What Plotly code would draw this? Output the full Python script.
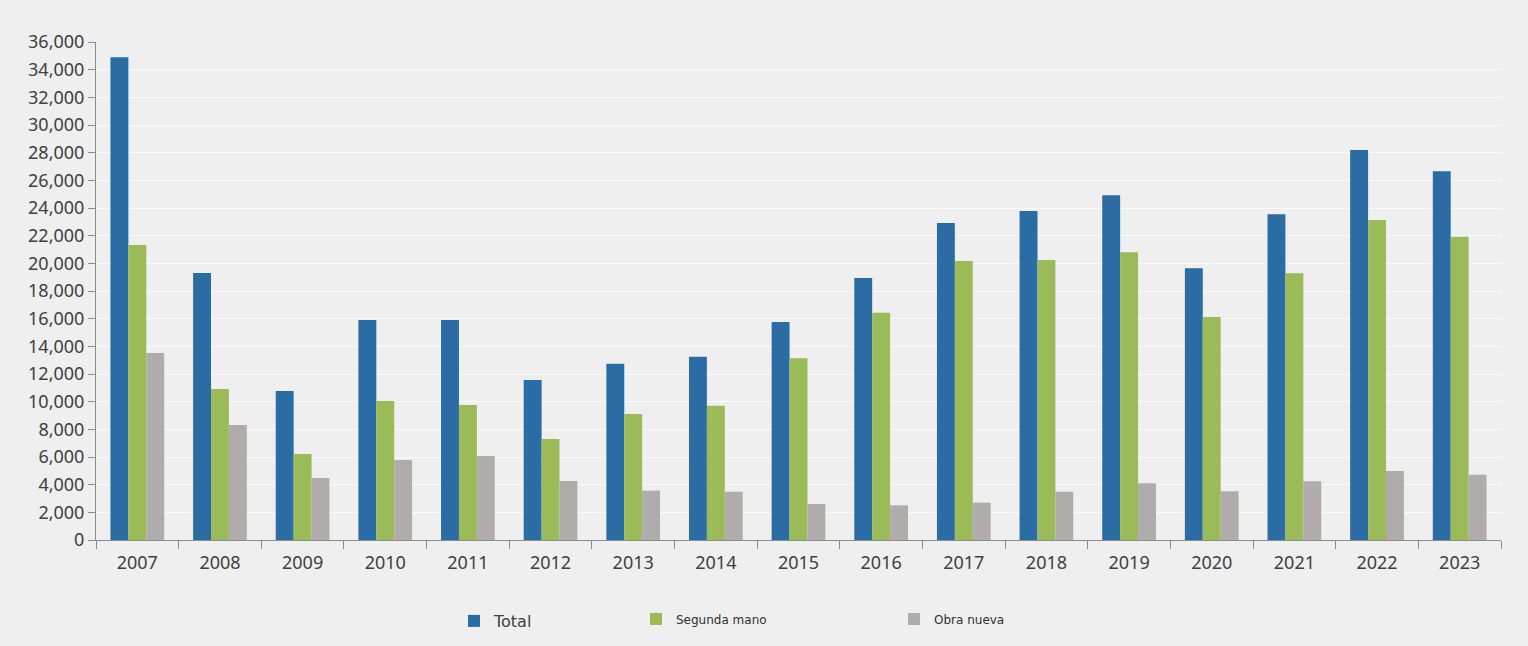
import plotly.graph_objects as go

years = ["2007", "2008", "2009", "2010", "2011", "2012", "2013", "2014", "2015",
         "2016", "2017", "2018", "2019", "2020", "2021", "2022", "2023"]
total = [34900, 19300, 10770, 15900, 15900, 11570, 12750, 13250, 15760,
         18940, 22920, 23780, 24920, 19640, 23540, 28190, 26650]
segunda_mano = [21330, 10920, 6220, 10050, 9760, 7300, 9110, 9710, 13130,
                16430, 20170, 20240, 20800, 16120, 19280, 23130, 21930]
obra_nueva = [13520, 8310, 4480, 5780, 6070, 4270, 3570, 3490, 2600,
              2510, 2700, 3490, 4100, 3520, 4240, 4990, 4720]
y_ticks = list(range(0, 36001, 2000))
y_tick_text = [f"{v:,}" for v in y_ticks]

BG = "#efefef"
fig = go.Figure()
fig.add_trace(go.Bar(x=years, y=total, name="Total", marker_color="#2a6ca3",
                     marker_line_width=0, legend="legend", showlegend=True))
fig.add_trace(go.Bar(x=years, y=segunda_mano, name="Segunda mano", marker_color="#9bbb59",
                     marker_line_width=0, legend="legend2", showlegend=True))
fig.add_trace(go.Bar(x=years, y=obra_nueva, name="Obra nueva", marker_color="#b0acac",
                     marker_line_width=0, legend="legend3", showlegend=True))

axis_font = dict(family="Noto Sans, DejaVu Sans, sans-serif", size=18, color="#404040")
legend_common = dict(orientation="h", xref="paper", yref="container", yanchor="middle",
                     bgcolor="rgba(0,0,0,0)", borderwidth=0, itemwidth=30, visible=True)

fig.update_layout(
    width=1528, height=646,
    showlegend=True,
    paper_bgcolor=BG, plot_bgcolor=BG,
    margin=dict(l=96, r=27, t=42, b=106),
    barmode="group", bargap=0.35, bargroupgap=0,
    font=axis_font,
    xaxis=dict(type="category", showline=True, linecolor="#8c8c8c", linewidth=1,
               ticks="outside", tickson="boundaries", ticklen=8, tickcolor="#8c8c8c",
               ticklabelstandoff=6,
               showgrid=False, tickfont=axis_font),
    yaxis=dict(range=[0, 36000], tickvals=y_ticks, ticktext=y_tick_text,
               showline=True, linecolor="#8c8c8c", linewidth=1,
               ticks="outside", ticklen=7, tickcolor="#8c8c8c",
               showgrid=True, gridcolor="#fbfbfb", gridwidth=1,
               zeroline=False, tickfont=axis_font),
    legend=dict(**legend_common, x=(454 - 96) / 1405, y=(646 - 621) / 646,
                font=dict(family="DejaVu Sans, sans-serif", size=16, color="#404040")),
    legend2=dict(**legend_common, x=(636 - 96) / 1405, y=(646 - 619) / 646,
                 font=dict(family="DejaVu Sans, sans-serif", size=12, color="#303030")),
    legend3=dict(**legend_common, x=(894 - 96) / 1405, y=(646 - 619) / 646,
                 font=dict(family="DejaVu Sans, sans-serif", size=12, color="#303030")),
)

fig.write_html("out.html", config={"displayModeBar": False},
               post_script="document.body.style.margin='0';")
